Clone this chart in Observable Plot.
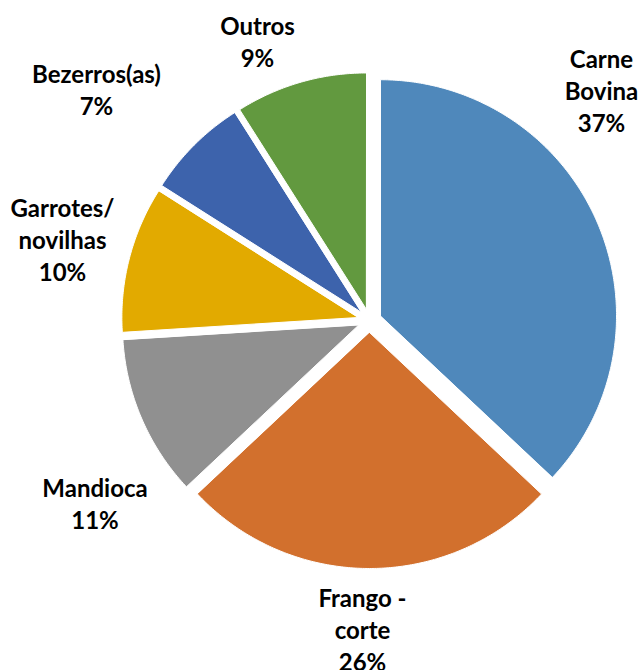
<!DOCTYPE html>
<html><head><meta charset="utf-8">
<script src="https://cdn.jsdelivr.net/npm/d3@7"></script>
<script src="https://cdn.jsdelivr.net/npm/@observablehq/plot@0.6"></script>
<style>html,body{margin:0;padding:0;background:#fff}</style>
</head><body><div id="chart"></div>
<script>
// ---- data ----
const categories = ["Carne Bovina", "Frango - corte", "Mandioca", "Garrotes/ novilhas", "Bezerros(as)", "Outros"];
const labelText = ["Carne\nBovina", "Frango -\ncorte", "Mandioca", "Garrotes/\nnovilhas", "Bezerros(as)", "Outros"];
const values = [37, 26, 11, 10, 7, 9];
const colors = ["#4f88bb", "#d2702d", "#909090", "#e2aa00", "#3d63ac", "#62993f"];

// ---- layout ----
const W = 641, H = 670, cx = 369, cy = 320, R = 236, explode = 12;
const labelAnchors = [[601, 89.5], [362, 628], [94.5, 502.5], [62, 238], [96, 88], [257, 40]];

const total = d3.sum(values);
const arcs = d3.pie().sort(null).value(d => d.value)(categories.map((name, i) => ({name, value: values[i]})));
const pts = [];
arcs.forEach(a => {
  const mid = (a.startAngle + a.endAngle) / 2;
  const ox = cx + explode * Math.sin(mid), oy = cy - explode * Math.cos(mid);
  pts.push({name: a.data.name, x: ox, y: oy});
  const n = Math.max(2, Math.ceil((a.endAngle - a.startAngle) / 0.01));
  for (let k = 0; k <= n; k++) {
    const t = a.startAngle + (a.endAngle - a.startAngle) * k / n;
    pts.push({name: a.data.name, x: ox + R * Math.sin(t), y: oy - R * Math.cos(t)});
  }
});
const labels = categories.map((name, i) => ({
  name,
  text: labelText[i] + "\n" + Math.round(values[i] / total * 100) + "%",
  x: labelAnchors[i][0], y: labelAnchors[i][1]
}));

const chart = Plot.plot({
  width: W, height: H,
  margin: 0,
  x: {domain: [0, W], axis: null},
  y: {domain: [H, 0], axis: null},
  color: {domain: categories, range: colors},
  style: {fontFamily: "Lato, sans-serif", background: "#fff"},
  marks: [
    Plot.line(pts, {x: "x", y: "y", z: "name", fill: "name", stroke: "white", strokeWidth: 1, curve: "linear-closed"}),
    Plot.text(labels, {x: "x", y: "y", text: "text", fontSize: 24, fontWeight: "bold", lineHeight: 32 / 24, fill: "#000", textAnchor: "middle", lineAnchor: "middle"})
  ]
});
document.getElementById("chart").appendChild(chart);
</script>
</body></html>
